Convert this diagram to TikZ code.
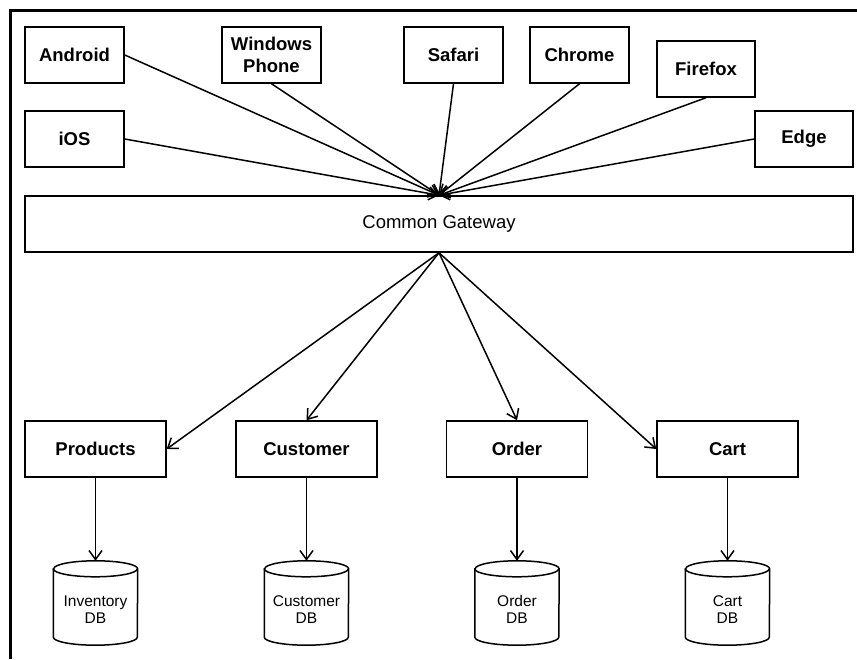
\documentclass[tikz,border=0pt]{standalone}
\usepackage{fontspec}
\setmainfont{Liberation Sans}
\usetikzlibrary{arrows.meta,calc}
\begin{document}
\begin{tikzpicture}[x=1pt,y=1pt,
  box/.style={draw,line width=1.5pt,rectangle,inner sep=0pt,align=center,
    font=\fontsize{18.5}{21.7}\selectfont\bfseries},
  gwbox/.style={draw,line width=1.5pt,rectangle,inner sep=0pt,align=center,
    font=\fontsize{18.5}{21.7}\selectfont},
  dbnode/.style={rectangle,inner sep=0pt,minimum width=84pt,minimum height=84pt,
    font=\fontsize{15.5}{17.7}\selectfont},
  conn/.style={line width=1.5pt,-{Straight Barb[length=9pt,width=13pt,line width=1.5pt]}},
  cyl/.style={line width=1.5pt}
]
\useasboundingbox (0,0) rectangle (857,659);
% frame (left and top only)
\draw[line width=3pt] (10,0) -- (10,648) -- (857,648);

% clients
\node[box,minimum width=99pt,minimum height=56pt] (android) at (74.5,604) {Android};
\node[box,minimum width=99pt,minimum height=56pt] (ios) at (74.5,520) {iOS};
\node[box,minimum width=99pt,minimum height=56pt] (wp) at (271.5,604) {Windows\\Phone};
\node[box,minimum width=99pt,minimum height=56pt] (safari) at (453.5,604) {Safari};
\node[box,minimum width=99pt,minimum height=56pt] (chrome) at (579.5,604) {Chrome};
\node[box,minimum width=98pt,minimum height=56pt] (firefox) at (706,590) {Firefox};
\node[box,minimum width=98pt,minimum height=56pt] (edge) at (804,520) {Edge};

% gateway
\node[gwbox,minimum width=828pt,minimum height=56pt] (gw) at (439,435) {Common Gateway};

% services
\node[box,minimum width=141pt,minimum height=56pt] (products) at (95.5,210) {Products};
\node[box,minimum width=141pt,minimum height=56pt] (customer) at (306.5,210) {Customer};
\node[box,minimum width=141pt,minimum height=56pt] (order) at (517,210) {Order};
\node[box,minimum width=141pt,minimum height=56pt] (cart) at (727.5,210) {Cart};

% databases
\foreach \n/\x/\t in {db1/95.5/Inventory, db2/306.5/Customer, db3/517/Order, db4/727.5/Cart}{
  \node[dbnode] (\n) at (\x,56) {\raisebox{-12pt}[0pt][0pt]{\begin{tabular}{@{}c@{}}\t\\DB\end{tabular}}};
  \draw[cyl] ([yshift=-8pt]\n.north west) -- ([yshift=8pt]\n.south west)
    arc[start angle=180,end angle=360,x radius=42pt,y radius=8pt]
    -- ([yshift=-8pt]\n.north east)
    arc[start angle=0,end angle=180,x radius=42pt,y radius=8pt] -- cycle;
  \draw[cyl] ([yshift=-8pt]\n.north west)
    arc[start angle=180,end angle=360,x radius=42pt,y radius=8pt];
}

% client -> gateway
\draw[conn] (android.east) -- (gw.north);
\draw[conn] (ios.east) -- (gw.north);
\draw[conn] (wp.south) -- (gw.north);
\draw[conn] (safari.south) -- (gw.north);
\draw[conn] (chrome.south) -- (gw.north);
\draw[conn] (firefox.south) -- (gw.north);
\draw[conn] (edge.west) -- (gw.north);

% gateway -> services
\draw[conn] (gw.south) -- (products.east);
\draw[conn] (gw.south) -- (customer.north);
\draw[conn] (gw.south) -- (order.north);
\draw[conn] (gw.south) -- (cart.west);

% services -> dbs
\draw[conn] (products.south) -- (db1.north);
\draw[conn] (customer.south) -- (db2.north);
\draw[conn] (order.south) -- (db3.north);
\draw[conn] (cart.south) -- (db4.north);
\end{tikzpicture}
\end{document}
